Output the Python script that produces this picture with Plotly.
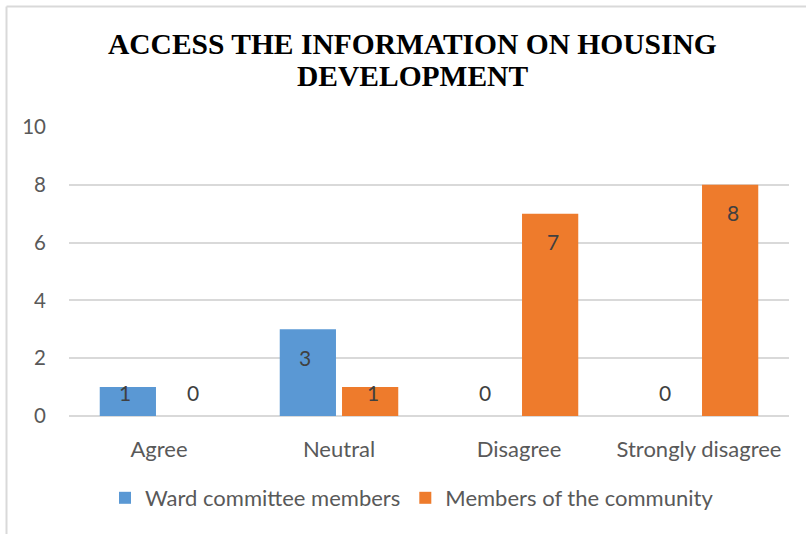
import plotly.graph_objects as go

# Survey responses on access to housing-development information
categories = ["Agree", "Neutral", "Disagree", "Strongly disagree"]
ward_committee = [1, 3, 0, 0]
community = [0, 1, 7, 8]
series_names = ["Ward committee members", "Members of the community"]
title_lines = ["ACCESS THE INFORMATION ON HOUSING", "DEVELOPMENT"]

y_ticks = [0, 2, 4, 6, 8, 10]

W, H = 806, 534
ML, MR, MT, MB = 69, 17, 127, 118
PW, PH = W - ML - MR, H - MT - MB

GRAY = "#595959"
BLUE = "#5a98d4"
ORANGE = "#ee7b2c"
FONT = "Lato, Calibri, sans-serif"


def px_x(p):
    return (p - ML) / PW


def px_y(p):
    return (H - MB - p) / PH


fig = go.Figure()
fig.add_trace(go.Bar(x=categories, y=ward_committee, name=series_names[0],
                     marker=dict(color=BLUE, line=dict(width=0))))
fig.add_trace(go.Bar(x=categories, y=community, name=series_names[1],
                     marker=dict(color=ORANGE, line=dict(width=0))))

annotations = []
# two-line chart title
for line, yp in zip(title_lines, (44, 76)):
    annotations.append(dict(
        x=px_x(412), y=px_y(yp), xref="paper", yref="paper",
        text=f"<b>{line}</b>", showarrow=False,
        xanchor="center", yanchor="middle",
        font=dict(family="Liberation Serif, Times New Roman, serif",
                  size=29.5, color="black")))

# value labels just inside the top of each bar (kept off the baseline)
for vals, shift in ((ward_committee, -34), (community, 34)):
    for cat, v in zip(categories, vals):
        annotations.append(dict(
            x=cat, y=max(v - 0.97, 0.83), xref="x", yref="y",
            text=str(v), showarrow=False, xshift=shift,
            yanchor="middle", font=dict(family=FONT, size=21, color="#404040")))

fig.update_layout(
    width=W, height=H,
    margin=dict(l=ML, r=MR, t=MT, b=MB),
    paper_bgcolor="white", plot_bgcolor="white",
    barmode="group", bargap=0.308, bargroupgap=0.097,
    font=dict(family=FONT, color=GRAY),
    showlegend=True,
    legend=dict(orientation="h", x=px_x(412), xanchor="center",
                y=px_y(498), yanchor="middle",
                font=dict(family=FONT, size=22, color=GRAY),
                itemwidth=30, traceorder="normal"),
    annotations=annotations,
    xaxis=dict(showgrid=False, showline=False, ticks="",
               ticklabelstandoff=18,
               tickfont=dict(family=FONT, size=22, color=GRAY)),
    yaxis=dict(range=[0, 10], tickvals=y_ticks, showgrid=True,
               gridcolor="#d9d9d9", gridwidth=1.5, zeroline=True,
               zerolinecolor="#d9d9d9", zerolinewidth=1.5,
               showline=False, ticks="", ticklabelstandoff=22,
               tickfont=dict(family=FONT, size=20.5, color=GRAY)),
    shapes=[
        # chart-area frame (top and left edges)
        dict(type="line", xref="paper", yref="paper",
             x0=px_x(6.5), x1=px_x(W + 5), y0=px_y(6.5), y1=px_y(6.5),
             line=dict(color="#d9d9d9", width=2)),
        dict(type="line", xref="paper", yref="paper",
             x0=px_x(6.5), x1=px_x(6.5), y0=px_y(6.5), y1=px_y(H + 5),
             line=dict(color="#d9d9d9", width=2)),
    ],
)

fig.write_html("out.html")
